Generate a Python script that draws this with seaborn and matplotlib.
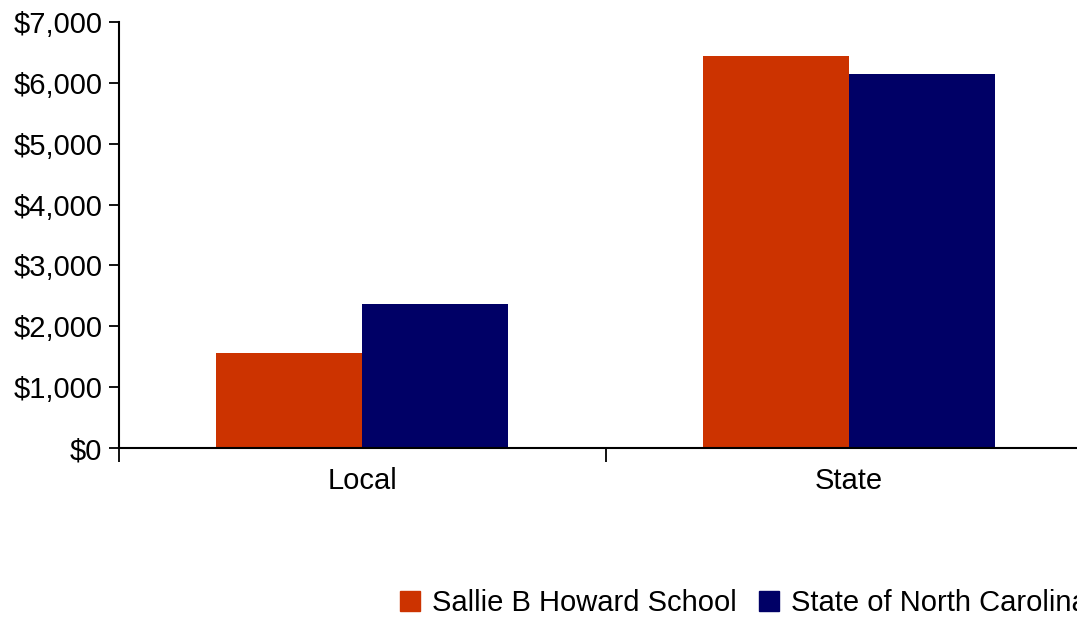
import matplotlib
matplotlib.use("Agg")
import matplotlib.pyplot as plt
import matplotlib.ticker as mticker
import pandas as pd
import seaborn as sns

# values (dollars per pupil)
categories = ["Local", "State"]
series_names = ["Sallie B Howard School", "State of North Carolina"]
school_values = [1555, 6445]
state_values = [2365, 6150]
colors = ["#CC3300", "#000066"]

df = pd.DataFrame({
    "source": categories * 2,
    "group": [series_names[0]] * 2 + [series_names[1]] * 2,
    "amount": school_values + state_values,
})

sns.set_style("white")
plt.rcParams["font.family"] = ["Liberation Sans", "DejaVu Sans"]
plt.rcParams["text.color"] = "black"
plt.rcParams["xtick.color"] = "black"
plt.rcParams["ytick.color"] = "black"

fig = plt.figure(figsize=(10.77, 6.19), dpi=100)
ax = fig.add_axes([119 / 1077, 1 - 448 / 619, 2 * 486.5 / 1077, (448 - 22) / 619])

sns.barplot(data=df, x="source", y="amount", hue="group", order=categories,
            hue_order=series_names, palette=colors, width=0.6, gap=0,
            saturation=1, linewidth=0, legend=False, ax=ax)

ax.set_xlim(-0.5, 1.5)
ax.set_ylim(0, 7000)
ax.set_xlabel("")
ax.set_ylabel("")

ax.yaxis.set_major_locator(mticker.MultipleLocator(1000))
ax.yaxis.set_major_formatter(mticker.StrMethodFormatter("${x:,.0f}"))
ax.tick_params(axis="y", which="major", direction="out", length=7, width=1.3,
               labelsize=21, pad=5, left=True, colors="black")
ax.tick_params(axis="x", which="major", length=0, labelsize=21, pad=14,
               colors="black")
ax.set_xticks([-0.5, 0.5, 1.5], minor=True)
ax.tick_params(axis="x", which="minor", direction="out", length=10, width=1.3,
               bottom=True, color="black")

sns.despine(ax=ax)
for side in ["left", "bottom"]:
    ax.spines[side].set_color("black")
    ax.spines[side].set_linewidth(1.5)

handles = [plt.Rectangle((0, 0), 1, 1, color=c) for c in colors]
fig.legend(handles, series_names, loc="center left",
           bbox_to_anchor=(400 / 1077, 1 - 603 / 619), ncol=2, frameon=False,
           fontsize=21, handlelength=0.7, handleheight=0.7, handletextpad=0.4,
           columnspacing=0.75, borderpad=0, borderaxespad=0, labelcolor="black")

fig.savefig("out.png", dpi=100)
